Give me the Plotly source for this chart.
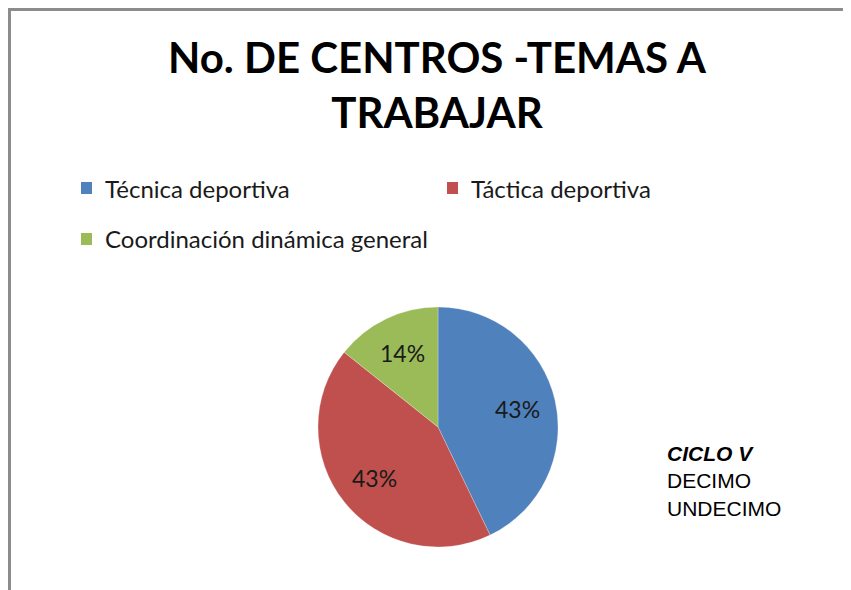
import math
import plotly.graph_objects as go

categories = ["Técnica deportiva", "Táctica deportiva", "Coordinación dinámica general"]
values = [3, 3, 1]
colors = ["#4F81BD", "#C0504D", "#9BBB59"]
title_lines = ["No. DE CENTROS -TEMAS A", "TRABAJAR"]
note_lines = ["CICLO V", "DECIMO", "UNDECIMO"]

W, H = 851, 590
OFF = 8  # page body margin


def px(x):
    return (x - OFF) / W


def py(y):
    return 1 - (y - OFF) / H


fig = go.Figure()

cx, cy, r = 438, 427, 120
fig.add_trace(go.Pie(
    labels=categories, values=values,
    marker=dict(colors=colors, line=dict(color="rgba(255,255,255,0.5)", width=0.5)),
    sort=False, direction="clockwise", rotation=0,
    textinfo="none",
    domain=dict(x=[px(cx - r), px(cx + r)], y=[py(cy + r), py(cy - r)]),
    showlegend=False, hoverinfo="label+percent",
))

shapes = [dict(type="rect", xref="paper", yref="paper",
               x0=px(9.5), x1=1.05, y0=-0.05, y1=1 - 1.5 / H,
               line=dict(color="#8c8c8c", width=3), fillcolor="rgba(0,0,0,0)")]
annotations = []

# percentage labels, placed at mid-angle of each slice
total = sum(values)
cum = 0
for v in values:
    mid = (cum + v / 2) / total * 2 * math.pi
    cum += v
    d = 0.68 * r
    lx = cx + d * math.sin(mid)
    ly = cy - d * math.cos(mid)
    annotations.append(dict(text=f"{round(100 * v / total)}%", x=px(lx), y=py(ly),
                            xref="paper", yref="paper", xanchor="center", yanchor="middle",
                            showarrow=False,
                            font=dict(family="Lato, Arial", size=23, color="#1a1a1a")))

# title
annotations.append(dict(
    text="<br>".join(title_lines), x=px(438), y=py(30), xref="paper", yref="paper",
    xanchor="center", yanchor="top", showarrow=False, align="center",
    font=dict(family="Lato, Arial", size=42, color="#000000", weight="bold")))

# legend (manual)
leg_pos = [(81, 188), (447, 188), (81, 239)]
for (lx, ly), lab, col in zip(leg_pos, categories, colors):
    shapes.append(dict(type="rect", xref="paper", yref="paper",
                       x0=px(lx), x1=px(lx + 11), y0=py(ly + 6), y1=py(ly - 6),
                       fillcolor=col, line=dict(width=0)))
    annotations.append(dict(text=lab, x=px(lx + 22), y=py(ly), xref="paper", yref="paper",
                            xanchor="left", yanchor="middle", showarrow=False,
                            font=dict(family="Lato, Arial", size=24, color="#1a1a1a")))

# side note
annotations.append(dict(
    text="<b><i>" + note_lines[0] + "</i></b><br>" + "<br>".join(note_lines[1:]),
    x=px(665), y=py(440), xref="paper", yref="paper",
    xanchor="left", yanchor="top", showarrow=False, align="left",
    font=dict(family="Liberation Sans, Arial", size=21, color="#000000")))

fig.update_layout(width=W, height=H, margin=dict(l=0, r=0, t=0, b=0),
                  paper_bgcolor="white", plot_bgcolor="white",
                  shapes=shapes, annotations=annotations)
fig.write_html("out.html")
